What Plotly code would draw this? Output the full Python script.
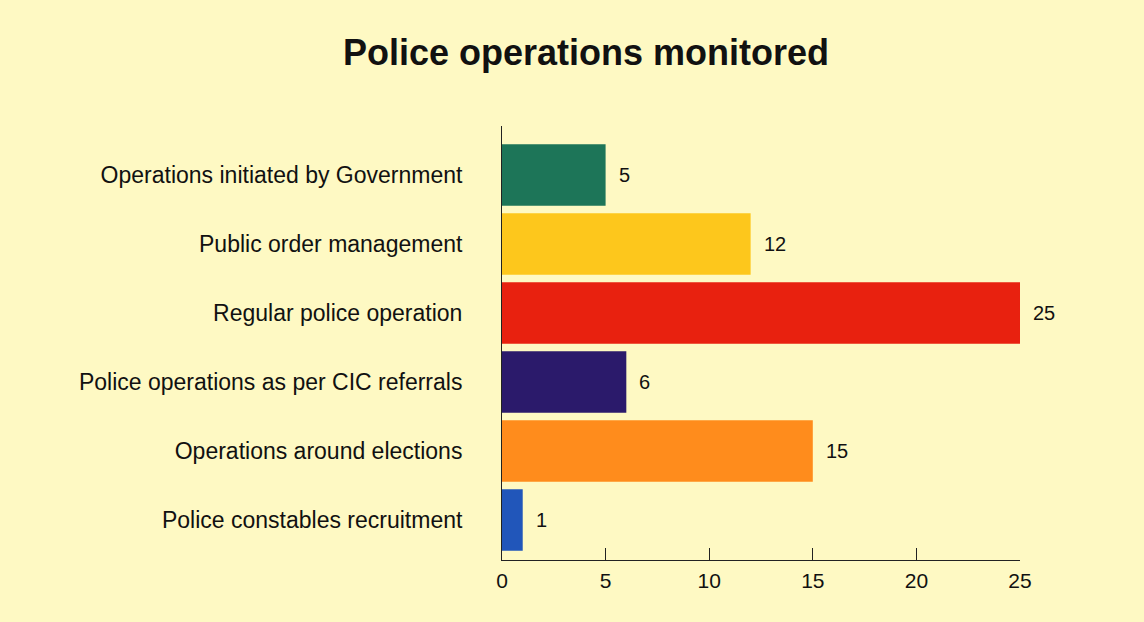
import plotly.graph_objects as go

categories = [
    "Operations initiated by Government",
    "Public order management",
    "Regular police operation",
    "Police operations as per CIC referrals",
    "Operations around elections",
    "Police constables recruitment",
]
values = [5, 12, 25, 6, 15, 1]
colors = ["#1D7558", "#FDC71C", "#E8210F", "#2B1A6B", "#FF8C1C", "#2156BA"]
x_ticks = [0, 5, 10, 15, 20, 25]

bg = "#FEF9C3"
font_family = "Liberation Sans, Arial, sans-serif"

fig = go.Figure()
fig.add_trace(go.Bar(
    x=values,
    y=categories,
    orientation="h",
    marker=dict(color=colors, line=dict(width=0)),
    hoverinfo="skip",
))

for c, v in zip(categories, values):
    fig.add_annotation(
        x=v, y=c, xref="x", yref="y",
        text=str(v), showarrow=False,
        xanchor="left", yanchor="middle", xshift=11,
        font=dict(family=font_family, size=20, color="#111111"),
    )

fig.update_layout(
    width=1144, height=622,
    paper_bgcolor=bg, plot_bgcolor=bg,
    margin=dict(l=502, r=124, t=126, b=62),
    bargap=0.11,
    showlegend=False,
    title=dict(
        text="<b>Police operations monitored</b>",
        x=586 / 1144, xanchor="center", xref="container",
        y=1 - 52 / 622, yanchor="middle",
        font=dict(family=font_family, size=36, color="#111111"),
    ),
    font=dict(family=font_family, color="#111111"),
)

fig.update_xaxes(
    range=[0, 25],
    tickvals=x_ticks,
    ticks="inside", ticklen=12, tickcolor="#222222", tickwidth=1,
    showline=True, linecolor="#222222", linewidth=1,
    showgrid=False, zeroline=False,
    ticklabelstandoff=2,
    tickfont=dict(family=font_family, size=21, color="#111111"),
    fixedrange=True,
)
fig.update_yaxes(
    type="category",
    categoryorder="array", categoryarray=categories,
    range=[5.58, -0.71],
    showline=True, linecolor="#222222", linewidth=1,
    ticks="", showgrid=False, zeroline=False,
    ticklabelstandoff=34,
    tickfont=dict(family=font_family, size=23, color="#111111"),
    fixedrange=True,
)

fig.write_html("out.html", config={"displayModeBar": False})
